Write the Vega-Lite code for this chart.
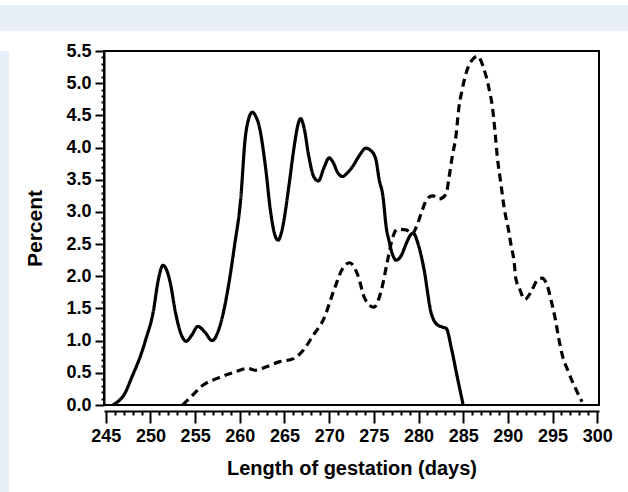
{
  "$schema": "https://vega.github.io/schema/vega-lite/v6.json",
  "description": "Distribution of gestation length, two groups.",
  "background": "white",
  "padding": {"left": 0, "top": 5, "right": 0, "bottom": 0},
  "config": {"font": "Liberation Sans", "concat": {"spacing": 0}},
  "spacing": 0,
  "vconcat": [
    {
      "width": 628,
      "height": 26,
      "view": {"fill": "#e8eff8", "stroke": null},
      "data": {"values": []},
      "mark": "point"
    },
    {
      "spacing": 14,
      "hconcat": [
        {
          "width": 9,
          "height": 443,
          "view": {"fill": "#e8eff8", "stroke": null},
          "data": {"values": []},
          "mark": "point"
        },
        {
          "width": 495,
          "height": 354,
          "title": {"text": " ", "fontSize": 6, "offset": 4},
          "view": {"fill": "white", "stroke": "black", "strokeWidth": 2},
          "data": {"values": [
            {"group": "Group 1", "days": 245.8, "percent": 0},
            {"group": "Group 1", "days": 246.5, "percent": 0.07},
            {"group": "Group 1", "days": 247.0, "percent": 0.15},
            {"group": "Group 1", "days": 248.0, "percent": 0.46},
            {"group": "Group 1", "days": 248.9, "percent": 0.77},
            {"group": "Group 1", "days": 249.5, "percent": 1.03},
            {"group": "Group 1", "days": 250.3, "percent": 1.44},
            {"group": "Group 1", "days": 250.9, "percent": 1.96},
            {"group": "Group 1", "days": 251.4, "percent": 2.17},
            {"group": "Group 1", "days": 251.8, "percent": 2.1},
            {"group": "Group 1", "days": 252.2, "percent": 1.91},
            {"group": "Group 1", "days": 252.8, "percent": 1.44},
            {"group": "Group 1", "days": 253.4, "percent": 1.11},
            {"group": "Group 1", "days": 254.0, "percent": 0.99},
            {"group": "Group 1", "days": 254.6, "percent": 1.08},
            {"group": "Group 1", "days": 255.3, "percent": 1.22},
            {"group": "Group 1", "days": 256.1, "percent": 1.13},
            {"group": "Group 1", "days": 256.9, "percent": 1.0},
            {"group": "Group 1", "days": 257.8, "percent": 1.24},
            {"group": "Group 1", "days": 258.8, "percent": 1.91},
            {"group": "Group 1", "days": 259.4, "percent": 2.47},
            {"group": "Group 1", "days": 260.1, "percent": 3.2},
            {"group": "Group 1", "days": 260.6, "percent": 4.14},
            {"group": "Group 1", "days": 261.0, "percent": 4.45},
            {"group": "Group 1", "days": 261.4, "percent": 4.55},
            {"group": "Group 1", "days": 261.8, "percent": 4.48},
            {"group": "Group 1", "days": 262.1, "percent": 4.37},
            {"group": "Group 1", "days": 262.9, "percent": 3.67},
            {"group": "Group 1", "days": 263.4, "percent": 3.05},
            {"group": "Group 1", "days": 264.0, "percent": 2.61},
            {"group": "Group 1", "days": 264.3, "percent": 2.56},
            {"group": "Group 1", "days": 264.6, "percent": 2.65},
            {"group": "Group 1", "days": 264.9, "percent": 2.84},
            {"group": "Group 1", "days": 265.5, "percent": 3.41},
            {"group": "Group 1", "days": 266.1, "percent": 4.03},
            {"group": "Group 1", "days": 266.5, "percent": 4.35},
            {"group": "Group 1", "days": 266.8, "percent": 4.45},
            {"group": "Group 1", "days": 267.2, "percent": 4.3},
            {"group": "Group 1", "days": 267.7, "percent": 3.88},
            {"group": "Group 1", "days": 268.3, "percent": 3.54},
            {"group": "Group 1", "days": 268.8, "percent": 3.48},
            {"group": "Group 1", "days": 269.4, "percent": 3.68},
            {"group": "Group 1", "days": 270.0, "percent": 3.84},
            {"group": "Group 1", "days": 270.4, "percent": 3.78},
            {"group": "Group 1", "days": 271.0, "percent": 3.6},
            {"group": "Group 1", "days": 271.5, "percent": 3.55},
            {"group": "Group 1", "days": 272.0, "percent": 3.6},
            {"group": "Group 1", "days": 272.6, "percent": 3.7},
            {"group": "Group 1", "days": 273.4, "percent": 3.88},
            {"group": "Group 1", "days": 274.1, "percent": 3.99},
            {"group": "Group 1", "days": 274.6, "percent": 3.96},
            {"group": "Group 1", "days": 275.2, "percent": 3.83},
            {"group": "Group 1", "days": 275.6, "percent": 3.5},
            {"group": "Group 1", "days": 276.0, "percent": 3.26},
            {"group": "Group 1", "days": 276.4, "percent": 2.75},
            {"group": "Group 1", "days": 276.7, "percent": 2.55},
            {"group": "Group 1", "days": 277.0, "percent": 2.38},
            {"group": "Group 1", "days": 277.5, "percent": 2.25},
            {"group": "Group 1", "days": 278.1, "percent": 2.33},
            {"group": "Group 1", "days": 278.6, "percent": 2.5},
            {"group": "Group 1", "days": 279.1, "percent": 2.64},
            {"group": "Group 1", "days": 279.4, "percent": 2.67},
            {"group": "Group 1", "days": 280.0, "percent": 2.48},
            {"group": "Group 1", "days": 280.6, "percent": 2.12},
            {"group": "Group 1", "days": 281.4, "percent": 1.44},
            {"group": "Group 1", "days": 282.0, "percent": 1.26},
            {"group": "Group 1", "days": 282.7, "percent": 1.21},
            {"group": "Group 1", "days": 283.1, "percent": 1.19},
            {"group": "Group 1", "days": 283.7, "percent": 0.87},
            {"group": "Group 1", "days": 284.3, "percent": 0.46},
            {"group": "Group 1", "days": 285.0, "percent": 0},
            {"group": "Group 2", "days": 253.6, "percent": 0},
            {"group": "Group 2", "days": 254.7, "percent": 0.15},
            {"group": "Group 2", "days": 255.9, "percent": 0.31},
            {"group": "Group 2", "days": 257.4, "percent": 0.41},
            {"group": "Group 2", "days": 259.4, "percent": 0.51},
            {"group": "Group 2", "days": 260.9, "percent": 0.57},
            {"group": "Group 2", "days": 261.7, "percent": 0.54},
            {"group": "Group 2", "days": 262.9, "percent": 0.59},
            {"group": "Group 2", "days": 264.4, "percent": 0.67},
            {"group": "Group 2", "days": 266.0, "percent": 0.72},
            {"group": "Group 2", "days": 267.1, "percent": 0.85},
            {"group": "Group 2", "days": 268.2, "percent": 1.08},
            {"group": "Group 2", "days": 269.4, "percent": 1.34},
            {"group": "Group 2", "days": 270.6, "percent": 1.81},
            {"group": "Group 2", "days": 271.5, "percent": 2.12},
            {"group": "Group 2", "days": 272.3, "percent": 2.21},
            {"group": "Group 2", "days": 273.2, "percent": 2.02},
            {"group": "Group 2", "days": 274.0, "percent": 1.65},
            {"group": "Group 2", "days": 275.0, "percent": 1.52},
            {"group": "Group 2", "days": 275.8, "percent": 1.76},
            {"group": "Group 2", "days": 276.5, "percent": 2.22},
            {"group": "Group 2", "days": 277.1, "percent": 2.6},
            {"group": "Group 2", "days": 277.6, "percent": 2.73},
            {"group": "Group 2", "days": 278.6, "percent": 2.72},
            {"group": "Group 2", "days": 279.3, "percent": 2.66},
            {"group": "Group 2", "days": 279.9, "percent": 2.82},
            {"group": "Group 2", "days": 280.4, "percent": 3.02},
            {"group": "Group 2", "days": 281.0, "percent": 3.21},
            {"group": "Group 2", "days": 281.6, "percent": 3.25},
            {"group": "Group 2", "days": 282.3, "percent": 3.2},
            {"group": "Group 2", "days": 283.1, "percent": 3.28},
            {"group": "Group 2", "days": 283.4, "percent": 3.52},
            {"group": "Group 2", "days": 283.8, "percent": 3.88},
            {"group": "Group 2", "days": 284.2, "percent": 4.19},
            {"group": "Group 2", "days": 284.5, "percent": 4.6},
            {"group": "Group 2", "days": 284.9, "percent": 4.91},
            {"group": "Group 2", "days": 285.5, "percent": 5.23},
            {"group": "Group 2", "days": 286.0, "percent": 5.36},
            {"group": "Group 2", "days": 286.6, "percent": 5.42},
            {"group": "Group 2", "days": 287.3, "percent": 5.23},
            {"group": "Group 2", "days": 287.9, "percent": 4.91},
            {"group": "Group 2", "days": 288.3, "percent": 4.6},
            {"group": "Group 2", "days": 288.6, "percent": 4.19},
            {"group": "Group 2", "days": 288.8, "percent": 3.88},
            {"group": "Group 2", "days": 289.2, "percent": 3.46},
            {"group": "Group 2", "days": 289.6, "percent": 3.05},
            {"group": "Group 2", "days": 290.1, "percent": 2.7},
            {"group": "Group 2", "days": 290.3, "percent": 2.53},
            {"group": "Group 2", "days": 290.7, "percent": 2.22},
            {"group": "Group 2", "days": 290.9, "percent": 1.96},
            {"group": "Group 2", "days": 291.3, "percent": 1.81},
            {"group": "Group 2", "days": 291.9, "percent": 1.64},
            {"group": "Group 2", "days": 292.6, "percent": 1.76},
            {"group": "Group 2", "days": 293.3, "percent": 1.94},
            {"group": "Group 2", "days": 293.8, "percent": 1.97},
            {"group": "Group 2", "days": 294.4, "percent": 1.86},
            {"group": "Group 2", "days": 294.8, "percent": 1.65},
            {"group": "Group 2", "days": 295.3, "percent": 1.34},
            {"group": "Group 2", "days": 295.7, "percent": 1.03},
            {"group": "Group 2", "days": 296.1, "percent": 0.77},
            {"group": "Group 2", "days": 296.7, "percent": 0.54},
            {"group": "Group 2", "days": 297.4, "percent": 0.31},
            {"group": "Group 2", "days": 298.3, "percent": 0.05}
          ]},
          "mark": {"type": "line", "interpolate": "monotone", "color": "black", "strokeWidth": 3.2},
          "encoding": {
            "x": {
              "field": "days",
              "type": "quantitative",
              "scale": {"domain": [244.8, 300.2], "nice": false, "zero": false},
              "axis": {
                "values": [245,246,247,248,249,250,251,252,253,254,255,256,257,258,259,260,261,262,263,264,265,266,267,268,269,270,271,272,273,274,275,276,277,278,279,280,281,282,283,284,285,286,287,288,289,290,291,292,293,294,295,296,297,298,299,300],
                "format": "d",
                "labelExpr": "datum.value % 5 === 0 ? datum.label : ''",
                "tickSize": {"condition": {"test": "datum.value % 5 === 0", "value": 12}, "value": 4},
                "tickWidth": 2,
                "tickColor": "black",
                "domainColor": "black",
                "domainWidth": 2,
                "offset": 6,
                "grid": false,
                "labelFlush": false,
                "labelOverlap": false,
                "labelFontSize": 18,
                "labelFontWeight": "bold",
                "labelColor": "black",
                "labelPadding": 4,
                "title": "Length of gestation (days)",
                "titleFontSize": 20,
                "titleFontWeight": "bold",
                "titleColor": "black",
                "titlePadding": 13
              }
            },
            "y": {
              "field": "percent",
              "type": "quantitative",
              "scale": {"domain": [0, 5.5], "nice": false},
              "axis": {
                "values": [0,0.1,0.2,0.3,0.4,0.5,0.6,0.7,0.8,0.9,1,1.1,1.2,1.3,1.4,1.5,1.6,1.7,1.8,1.9,2,2.1,2.2,2.3,2.4,2.5,2.6,2.7,2.8,2.9,3,3.1,3.2,3.3,3.4,3.5,3.6,3.7,3.8,3.9,4,4.1,4.2,4.3,4.4,4.5,4.6,4.7,4.8,4.9,5,5.1,5.2,5.3,5.4,5.5],
                "format": ".1f",
                "labelExpr": "abs(datum.value * 2 - round(datum.value * 2)) < 0.001 ? datum.label : ''",
                "tickSize": {"condition": {"test": "abs(datum.value * 2 - round(datum.value * 2)) < 0.001", "value": 9}, "value": 3},
                "tickWidth": 2,
                "tickColor": "black",
                "domainColor": "black",
                "domainWidth": 2,
                "grid": false,
                "labelFlush": false,
                "labelOverlap": false,
                "labelFontSize": 18,
                "labelFontWeight": "bold",
                "labelColor": "black",
                "labelPadding": 4,
                "title": "Percent",
                "titleFontSize": 21,
                "titleFontWeight": "bold",
                "titleColor": "black",
                "titlePadding": 20
              }
            },
            "strokeDash": {
              "field": "group",
              "type": "nominal",
              "scale": {"domain": ["Group 1", "Group 2"], "range": [[1, 0], [8, 5]]},
              "legend": null
            }
          }
        }
      ]
    }
  ]
}
